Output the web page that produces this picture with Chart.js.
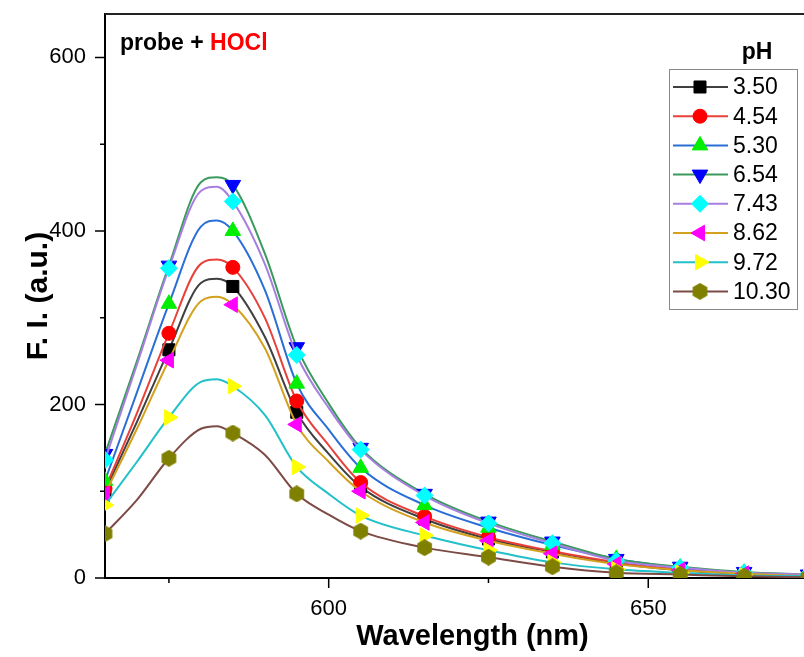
<!DOCTYPE html>
<html>
<head>
<meta charset="utf-8">
<title>probe + HOCl pH</title>
<script src="https://cdn.jsdelivr.net/npm/chart.js@4/dist/chart.umd.min.js"></script>
<style>
  body { margin: 0; background: #fff; overflow: hidden; }
  #wrap { position: relative; width: 850px; height: 657px; }
</style>
</head>
<body>
<div id="wrap"><canvas id="myChart"></canvas></div>

<script type="text/javascript">
// wavelengths (nm); markers only sit on the 10 nm points
var wavelengths = [565, 570, 575, 580, 582.5, 585, 590, 595, 600, 605, 615, 625, 635, 645, 655, 665, 675];

var ph350  = [100, 180, 263, 340, 345, 336, 278, 191, 143, 105, 68, 45, 30, 17, 9, 5, 2];
var ph454  = [103, 190, 282, 362, 367, 358, 300, 204, 153, 110, 71, 47, 31, 18, 10, 5, 3];
var ph530  = [112, 214, 316, 405, 412, 400, 332, 224, 171, 127, 84, 58, 38, 22, 12, 6, 3];
var ph654  = [143, 250, 360, 456, 462, 453, 374, 266, 201, 150, 97, 65, 42, 22, 13, 7, 4];
var ph743  = [136, 246, 357, 446, 451, 434, 362, 257, 196, 148, 95, 63, 40, 20, 12, 6, 4];
var ph862  = [97, 172, 251, 319, 324, 315, 265, 177, 134, 100, 64, 43, 28, 16, 9, 5, 2];
var ph972  = [84, 134, 185, 226, 229, 221, 188, 128, 97, 72, 49, 32, 18, 10, 6, 3, 2];
var ph1030 = [51, 90, 138, 172, 175, 167, 142, 97, 73, 54, 35, 24, 13, 6, 4, 2, 1];

var phLabels = ['3.50', '4.54', '5.30', '6.54', '7.43', '8.62', '9.72', '10.30'];

var xMajor = [600, 650];
var xMinor = [575, 625, 675];
var yMajor = [0, 200, 400, 600];
var yMinor = [100, 300, 500];

// hexagon marker for pH 10.30
function hexagon(size, color) {
  var c = document.createElement('canvas');
  c.width = size; c.height = size;
  var g = c.getContext('2d');
  var r = size / 2;
  g.beginPath();
  for (var k = 0; k < 6; k++) {
    var a = Math.PI / 3 * k - Math.PI / 2;
    var px = r + r * Math.cos(a), py = r + r * Math.sin(a);
    if (k == 0) g.moveTo(px, py); else g.lineTo(px, py);
  }
  g.closePath();
  g.fillStyle = color;
  g.fill();
  return c;
}
var hexImg = hexagon(17, '#808000');

var series = [
  { label: phLabels[0], values: ph350,  line: '#404040', mark: '#000000', style: 'rect',     rot: 0,   r: 8.5 },
  { label: phLabels[1], values: ph454,  line: '#e8403a', mark: '#ff0000', style: 'circle',   rot: 0,   r: 7 },
  { label: phLabels[2], values: ph530,  line: '#2a6fd6', mark: '#00ee00', style: 'triangle', rot: 0,   r: 9 },
  { label: phLabels[3], values: ph654,  line: '#3a9a5c', mark: '#0000ff', style: 'triangle', rot: 180, r: 9 },
  { label: phLabels[4], values: ph743,  line: '#a77fe0', mark: '#00ffff', style: 'rectRot',  rot: 0,   r: 8.5 },
  { label: phLabels[5], values: ph862,  line: '#d4a11e', mark: '#ff00ff', style: 'triangle', rot: -90, r: 9 },
  { label: phLabels[6], values: ph972,  line: '#22c0c8', mark: '#ffff00', style: 'triangle', rot: 90,  r: 9 },
  { label: phLabels[7], values: ph1030, line: '#7d4b45', mark: '#808000', style: hexImg,     rot: 0,   r: 8.5 }
];

function isMarker(x) { return (x - 565) % 10 === 0; }

var datasets = series.map(function (s, i) {
  return {
    label: s.label,
    data: wavelengths.map(function (w, j) { return { x: w, y: s.values[j] }; }),
    borderColor: s.line,
    borderWidth: 2,
    backgroundColor: s.mark,
    pointBackgroundColor: s.mark,
    pointBorderColor: s.mark,
    pointBorderWidth: 1,
    pointStyle: s.style,
    pointRotation: s.rot,
    pointRadius: function (ctx) { return ctx.raw && isMarker(ctx.raw.x) ? s.r : 0; },
    pointHoverRadius: 0,
    cubicInterpolationMode: 'monotone',
    order: series.length - i
  };
});

var FONT = '"Liberation Sans", Arial, sans-serif';

var decor = {
  id: 'decor',
  afterDraw: function (chart) {
    var ctx = chart.ctx, a = chart.chartArea;
    var xs = chart.scales.x, ys = chart.scales.y;
    ctx.save();
    // frame top and right
    ctx.strokeStyle = '#222';
    ctx.lineWidth = 2;
    ctx.beginPath();
    ctx.moveTo(a.left, a.top); ctx.lineTo(a.right, a.top); ctx.lineTo(a.right, a.bottom);
    ctx.stroke();
    // tick marks
    ctx.strokeStyle = '#000';
    ctx.lineWidth = 1.5;
    ctx.beginPath();
    yMajor.forEach(function (v) { var y = ys.getPixelForValue(v); ctx.moveTo(a.left, y); ctx.lineTo(a.left - 10, y); });
    yMinor.forEach(function (v) { var y = ys.getPixelForValue(v); ctx.moveTo(a.left, y); ctx.lineTo(a.left - 5, y); });
    xMajor.forEach(function (v) { var x = xs.getPixelForValue(v); ctx.moveTo(x, a.bottom); ctx.lineTo(x, a.bottom + 10); });
    xMinor.forEach(function (v) { var x = xs.getPixelForValue(v); ctx.moveTo(x, a.bottom); ctx.lineTo(x, a.bottom + 5); });
    ctx.stroke();

    // annotation
    ctx.font = 'bold 23px ' + FONT;
    ctx.textBaseline = 'alphabetic';
    ctx.textAlign = 'left';
    ctx.fillStyle = '#000';
    var t1 = 'probe + ';
    ctx.fillText(t1, 120, 50);
    ctx.fillStyle = '#ff0000';
    ctx.fillText('HOCl', 120 + ctx.measureText(t1).width, 50);

    // legend
    ctx.fillStyle = '#000';
    ctx.font = 'bold 23px ' + FONT;
    ctx.textAlign = 'center';
    ctx.textBaseline = 'middle';
    ctx.fillText('pH', 757, 53);
    ctx.strokeStyle = '#888';
    ctx.lineWidth = 1;
    ctx.strokeRect(669.5, 69.5, 128, 240);
    ctx.font = '23px ' + FONT;
    ctx.textAlign = 'left';
    series.forEach(function (s, i) {
      var y = 87 + i * 29.2;
      ctx.strokeStyle = s.line;
      ctx.lineWidth = 2;
      ctx.beginPath(); ctx.moveTo(673, y); ctx.lineTo(728, y); ctx.stroke();
      ctx.fillStyle = s.mark;
      ctx.strokeStyle = s.mark;
      ctx.lineWidth = 1;
      Chart.helpers.drawPoint(ctx, { pointStyle: s.style, rotation: s.rot, radius: s.r, borderWidth: 1 }, 700, y);
      ctx.fillStyle = '#000';
      ctx.fillText(s.label, 733, y + 1);
    });
    ctx.restore();
  }
};

var config = {
  type: 'line',
  data: { datasets: datasets },
  options: {
    responsive: true,
    maintainAspectRatio: false,
    animation: false,
    layout: { padding: { top: 14, right: 9, left: 0, bottom: 0 } },
    plugins: { legend: { display: false }, tooltip: { enabled: false } },
    scales: {
      x: {
        type: 'linear',
        min: 565,
        max: 680,
        afterBuildTicks: function (scale) { scale.ticks = xMajor.map(function (v) { return { value: v }; }); },
        afterFit: function (scale) { scale.height = 79; scale.paddingLeft = 0; scale.paddingRight = 0; },
        grid: { display: false, drawTicks: false },
        border: { display: true, color: '#000', width: 2 },
        ticks: { color: '#000', padding: 18, maxRotation: 0, font: { family: FONT, size: 22 } },
        title: { display: true, text: 'Wavelength (nm)', color: '#000', padding: { top: 0, bottom: 3 },
                 font: { family: FONT, size: 29, weight: 'bold' } }
      },
      y: {
        type: 'linear',
        min: 0,
        max: 650,
        afterBuildTicks: function (scale) { scale.ticks = yMajor.map(function (v) { return { value: v }; }); },
        afterFit: function (scale) { scale.width = 105; scale.paddingTop = 0; scale.paddingBottom = 0; },
        grid: { display: false, drawTicks: false },
        border: { display: true, color: '#000', width: 2 },
        ticks: { color: '#000', padding: 19, font: { family: FONT, size: 22 } },
        title: { display: true, text: 'F. I. (a.u.)', color: '#000', padding: { top: 21, bottom: 0 },
                 font: { family: FONT, size: 30, weight: 'bold' } }
      }
    }
  },
  plugins: [decor]
};

var chart = new Chart(document.getElementById('myChart'), config);
</script>
</body>
</html>
